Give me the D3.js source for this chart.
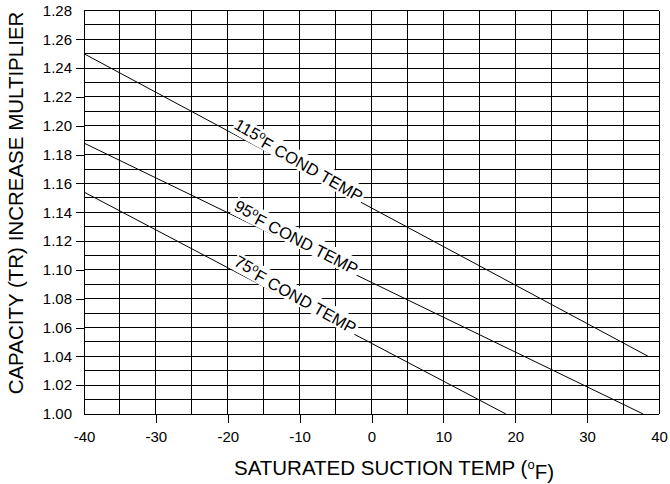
<!DOCTYPE html>
<html>
<head>
<meta charset="utf-8">
<script src="https://cdn.jsdelivr.net/npm/d3@7"></script>
<style>
  body { margin: 0; background: #fff; }
  text { font-family: "Liberation Sans", Arial, Helvetica, sans-serif; fill: #000; }
</style>
</head>
<body>
<div id="chart"></div>
<script>
// data
var condTemps = ["115", "95", "75"];
var suctionStart = [-40, -40, -40];
var suctionEnd = [38.5, 37.8, 18.7];
var multStart = [1.25, 1.188, 1.154];
var multEnd = [1.04, 1.00, 1.00];
var labelAt = [-19.6, -19.6, -19.6];   // suction temp where each label starts

var xTicks = [-40, -30, -20, -10, 0, 10, 20, 30, 40];
var yTicks = [1.00, 1.02, 1.04, 1.06, 1.08, 1.10, 1.12, 1.14, 1.16, 1.18, 1.20, 1.22, 1.24, 1.26, 1.28];

var W = 670, H = 484;
var margin = {top: 10.5, right: 11, bottom: 70, left: 84};
var width = W - margin.left - margin.right,
    height = H - margin.top - margin.bottom;

var svg = d3.select("#chart").append("svg")
    .attr("width", W)
    .attr("height", H);

var g = svg.append("g")
    .attr("transform", "translate(" + margin.left + "," + margin.top + ")");

var x = d3.scaleLinear().domain([-40, 40]).range([0, width]);
var y = d3.scaleLinear().domain([1.00, 1.28]).range([height, 0]);

// grid: every 5 deg and every 0.01
var gridX = d3.range(-40, 40.1, 5);
var gridY = d3.range(0, 29).map(function(i) { return 1 + i / 100; });

g.selectAll(".vgrid").data(gridX).enter().append("line")
    .attr("class", "vgrid")
    .attr("x1", function(d) { return x(d); })
    .attr("x2", function(d) { return x(d); })
    .attr("y1", 0).attr("y2", height)
    .attr("stroke", "#000").attr("stroke-width", 1)
    .attr("shape-rendering", "crispEdges");

g.selectAll(".hgrid").data(gridY).enter().append("line")
    .attr("class", "hgrid")
    .attr("x1", 0).attr("x2", width)
    .attr("y1", function(d) { return y(d); })
    .attr("y2", function(d) { return y(d); })
    .attr("stroke", "#000").attr("stroke-width", 1)
    .attr("shape-rendering", "crispEdges");

// axes (ticks only on inner labelled values)
var xAxis = d3.axisBottom(x).tickValues(xTicks).tickSize(9).tickPadding(8)
    .tickFormat(function(d) { return String(d); });
var xAxisEl = g.append("g")
    .attr("transform", "translate(0," + height + ")")
    .call(xAxis);
xAxisEl.select(".domain").remove();
xAxisEl.selectAll(".tick line")
    .attr("stroke-opacity", function(d) { return (d === -40 || d === 40) ? 0 : 1; })
    .attr("shape-rendering", "crispEdges");
xAxisEl.selectAll("text").style("font-size", "15px");

var yAxis = d3.axisLeft(y).tickValues(yTicks).tickSize(8).tickPadding(4)
    .tickFormat(d3.format(".2f"));
var yAxisEl = g.append("g").call(yAxis);
yAxisEl.select(".domain").remove();
yAxisEl.selectAll(".tick line")
    .attr("stroke-opacity", function(d) { return (d < 1.01 || d > 1.27) ? 0 : 1; })
    .attr("shape-rendering", "crispEdges");
yAxisEl.selectAll("text").style("font-size", "15px");

// curves
var line = d3.line()
    .x(function(d) { return x(d[0]); })
    .y(function(d) { return y(d[1]); });

condTemps.forEach(function(t, i) {
  var pts = [[suctionStart[i], multStart[i]], [suctionEnd[i], multEnd[i]]];
  g.append("path").datum(pts)
    .attr("d", line)
    .attr("fill", "none")
    .attr("stroke", "#000")
    .attr("stroke-width", 1);

  // label along the line
  var slope = (multEnd[i] - multStart[i]) / (suctionEnd[i] - suctionStart[i]);
  var lx = labelAt[i], ly = multStart[i] + slope * (lx - suctionStart[i]);
  var px = x(lx), py = y(ly);
  var ang = Math.atan2(y(multEnd[i]) - y(multStart[i]), x(suctionEnd[i]) - x(suctionStart[i])) * 180 / Math.PI;

  var lab = g.append("g")
    .attr("transform", "translate(" + px + "," + py + ") rotate(" + (ang + 1.5) + ")");
  var txt = lab.append("text")
    .attr("x", 0).attr("y", -5)
    .style("font-size", "16.5px");
  txt.append("tspan").text(t);
  txt.append("tspan").text("o").attr("dy", "-0.45em").style("font-size", "11px");
  txt.append("tspan").text("F COND TEMP").attr("dy", "0.45em");
  var bb = txt.node().getBBox();
  lab.insert("rect", "text")
    .attr("x", bb.x - 1).attr("y", bb.y + 1)
    .attr("width", bb.width + 3).attr("height", bb.height - 2)
    .attr("fill", "#fff");
});

// axis titles
var xt = svg.append("text")
    .attr("x", 394).attr("y", 475)
    .attr("text-anchor", "middle")
    .style("font-size", "20.5px");
xt.append("tspan").text("SATURATED SUCTION TEMP (");
xt.append("tspan").text("o").attr("dy", "-0.5em").style("font-size", "13px");
xt.append("tspan").text("F)").attr("dy", "0.5em");

svg.append("text")
    .attr("transform", "translate(23," + 203 + ") rotate(-90)")
    .attr("text-anchor", "middle")
    .style("font-size", "20.5px")
    .text("CAPACITY (TR) INCREASE MULTIPLIER");
</script>
</body>
</html>
